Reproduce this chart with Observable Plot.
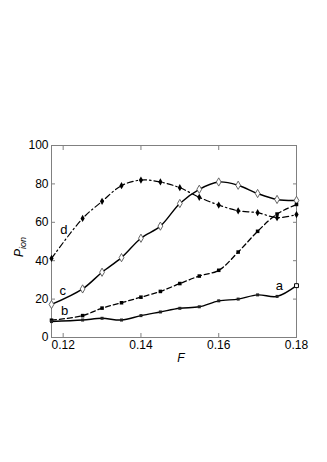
<!DOCTYPE html>
<html><head><meta charset="utf-8">
<script src="https://cdn.jsdelivr.net/npm/d3@7"></script>
<script src="https://cdn.jsdelivr.net/npm/@observablehq/plot@0.6"></script>
<style>body{margin:0;background:#fff}</style>
</head><body><div id="chart"></div>
<script>
const fieldF = [0.117, 0.125, 0.13, 0.135, 0.14, 0.145, 0.15, 0.155, 0.16, 0.165, 0.17, 0.175, 0.18];
const seriesA = [8.3, 9.1, 10, 9.1, 11.4, 13.3, 15.2, 16, 19.1, 20, 22.2, 21.4, 27];
const seriesB = [9, 11.4, 15.3, 18.1, 21, 24, 28.1, 32, 35, 44.5, 55.3, 64.3, 69.3];
const seriesC = [17.2, 25.3, 34, 41.6, 51.7, 58, 69.8, 77.2, 81, 79.3, 75, 71.9, 71.4];
const seriesD = [41.2, 62, 70.9, 79.1, 82, 81, 78, 73, 69, 66, 65, 62.4, 64];
const xTicks = [0.12, 0.14, 0.16, 0.18];
const yTicks = [0, 20, 40, 60, 80, 100];
const curveNames = ["a", "b", "c", "d"];
const curveLabelF = [0.1756, 0.1204, 0.1199, 0.1202];
const curveLabelP = [27, 13.9, 24.3, 56];

const mk = (vals) => fieldF.map((f, i) => ({F: f, P: vals[i]}));
const A = mk(seriesA), B = mk(seriesB), C = mk(seriesC), D = mk(seriesD);
const labels = curveNames.map((n, i) => ({n, F: curveLabelF[i], P: curveLabelP[i]}));
const grey = "#808080";

const chart = Plot.plot({
  width: 327, height: 462,
  marginLeft: 51, marginRight: 31, marginTop: 145, marginBottom: 125,
  x: {domain: [0.117, 0.18]},
  y: {domain: [0, 100]},
  style: {fontFamily: "'Liberation Sans', Arial, sans-serif", fontSize: "12px", background: "white", color: "black"},
  marks: [
    Plot.frame({stroke: grey}),
    Plot.axisX(xTicks, {tickSize: -4, tickPadding: 7, stroke: grey, fill: "black", tickFormat: d => d.toFixed(2), label: null}),
    Plot.axisX(xTicks, {anchor: "top", tickSize: -4, stroke: grey, tickFormat: () => "", label: null}),
    Plot.axisY(yTicks, {tickSize: -4, tickPadding: 7, stroke: grey, fill: "black", label: null}),
    Plot.axisY(yTicks, {anchor: "right", tickSize: -4, stroke: grey, tickFormat: () => "", label: null}),
    Plot.line(D, {x: "F", y: "P", curve: "catmull-rom", stroke: "black", strokeWidth: 1.2, strokeDasharray: "6,3,1.5,3"}),
    Plot.line(C, {x: "F", y: "P", curve: "catmull-rom", stroke: "black", strokeWidth: 1.4}),
    Plot.line(B, {x: "F", y: "P", curve: "catmull-rom", stroke: "black", strokeWidth: 1.3, strokeDasharray: "5,3"}),
    Plot.line(A, {x: "F", y: "P", curve: "catmull-rom", stroke: "black", strokeWidth: 1.4}),
    Plot.dot(D, {x: "F", y: "P", symbol: "diamond", r: 2.2, fill: "black"}),
    Plot.dot(C, {x: "F", y: "P", symbol: "diamond", r: 2.5, fill: "white", stroke: "#555", strokeWidth: 0.9}),
    Plot.dot(B, {x: "F", y: "P", symbol: "square", r: 2, fill: "black"}),
    Plot.dot(A.slice(0, -1), {x: "F", y: "P", symbol: "square", r: 1.7, fill: "#222"}),
    Plot.dot(A.slice(-1), {x: "F", y: "P", symbol: "square", r: 2.2, fill: "white", stroke: "black", strokeWidth: 1}),
    Plot.text(labels, {x: "F", y: "P", text: "n", fontSize: 13, fill: "black"})
  ]
});

const svg = d3.select(chart);
svg.append("text")
  .attr("transform", "translate(23,247) rotate(-90)")
  .attr("font-family", "'Liberation Sans', Arial, sans-serif")
  .attr("font-size", 12).attr("font-style", "italic").attr("fill", "black")
  .call(t => {
    t.append("tspan").text("P");
    t.append("tspan").attr("font-size", 9).attr("dy", 3).text("ion");
  });
svg.append("text")
  .attr("x", 181).attr("y", 362)
  .attr("text-anchor", "middle")
  .attr("font-family", "'Liberation Sans', Arial, sans-serif")
  .attr("font-size", 12).attr("font-style", "italic").attr("fill", "black")
  .text("F");

document.getElementById("chart").appendChild(chart);
</script>
</body></html>
